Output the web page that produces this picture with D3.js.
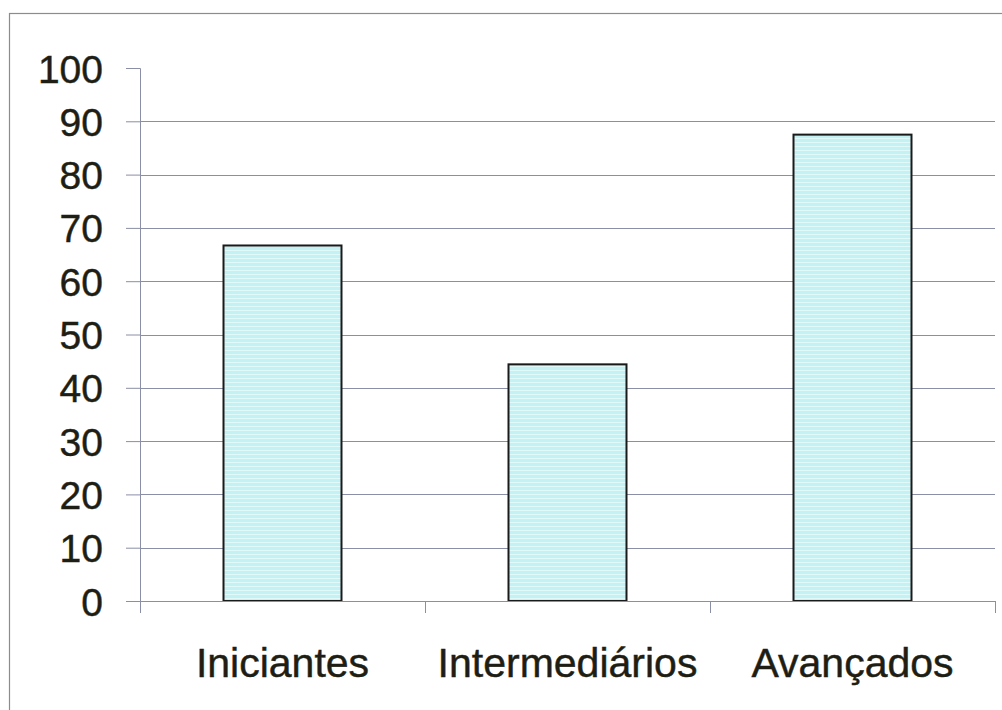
<!DOCTYPE html>
<html>
<head>
<meta charset="utf-8">
<script src="https://cdn.jsdelivr.net/npm/d3@7"></script>
<style>
  body { margin: 0; background: #fff; }
  text { font-family: "Liberation Sans", Arial, sans-serif; fill: #1e1e14; stroke: #1e1e14; stroke-width: 0.45px; }
</style>
</head>
<body>
<div id="graph"></div>
<script>
"use strict";

const width = 1002,
      height = 710;

// chart data
const categories = ["Iniciantes", "Intermediários", "Avançados"];
const values = [66.7, 44.4, 87.5];
const yTicks = [0, 10, 20, 30, 40, 50, 60, 70, 80, 90, 100];

const plot = { left: 140, right: 995, top: 68, bottom: 601 };

const svg = d3.select("#graph")
    .append("svg")
    .attr("width", width)
    .attr("height", height);

// scanned-look fill with faint horizontal lines
const defs = svg.append("defs");
const pat = defs.append("pattern")
    .attr("id", "scan")
    .attr("patternUnits", "userSpaceOnUse")
    .attr("width", 8)
    .attr("height", 4);
pat.append("rect").attr("width", 8).attr("height", 4).attr("fill", "#c4f1f4");
pat.append("rect").attr("y", 2).attr("width", 8).attr("height", 1).attr("fill", "#e2f9fa");

// outer frame
svg.append("rect")
    .attr("x", 9.5)
    .attr("y", 13.5)
    .attr("width", 1010)
    .attr("height", 720)
    .attr("fill", "#fff")
    .attr("stroke", "#8c8c8c")
    .attr("stroke-width", 1.2);

const x = d3.scaleBand()
    .domain(categories)
    .range([plot.left, plot.right])
    .padding(0);

const y = d3.scaleLinear()
    .domain([0, 100])
    .range([plot.bottom, plot.top]);

// gridlines (none at 0 and 100)
svg.append("g")
    .selectAll("line")
    .data(yTicks.filter(d => d > 0 && d < 100))
    .enter()
    .append("line")
    .attr("x1", plot.left)
    .attr("x2", plot.right)
    .attr("y1", d => Math.round(y(d)) + 0.5)
    .attr("y2", d => Math.round(y(d)) + 0.5)
    .attr("stroke", "#8a8ea6")
    .attr("stroke-width", 1);

// y axis
const yAxis = svg.append("g")
    .attr("transform", "translate(" + plot.left + ",0)")
    .call(d3.axisLeft(y).tickValues(yTicks).tickSize(14).tickPadding(23).tickFormat(d3.format("d")));
yAxis.select(".domain").attr("stroke", "#8a8ea6");
yAxis.selectAll(".tick line").attr("stroke", "#8a8ea6");
yAxis.selectAll("text")
    .style("font-size", "39px")
    .style("font-family", "'Liberation Sans', Arial, sans-serif")
    .attr("fill", "#1e1e14")
    .attr("dy", "0.36em");

// bars
const barW = x.bandwidth() * 0.414;
svg.append("g")
    .selectAll("rect")
    .data(values)
    .enter()
    .append("rect")
    .attr("x", (d, i) => x(categories[i]) + (x.bandwidth() - barW) / 2)
    .attr("y", d => y(d))
    .attr("width", barW)
    .attr("height", d => y(0) - y(d))
    .attr("fill", "url(#scan)")
    .attr("stroke", "#1a1a1a")
    .attr("stroke-width", 2);

// x axis: line at 0 and ticks at category boundaries
svg.append("line")
    .attr("x1", plot.left - 14)
    .attr("x2", plot.right)
    .attr("y1", y(0) + 0.5)
    .attr("y2", y(0) + 0.5)
    .attr("stroke", "#8a8ea6");

const bounds = categories.map(c => x(c)).concat([plot.right]);
svg.append("g")
    .selectAll("line")
    .data(bounds)
    .enter()
    .append("line")
    .attr("x1", d => Math.round(d) + 0.5)
    .attr("x2", d => Math.round(d) + 0.5)
    .attr("y1", y(0))
    .attr("y2", y(0) + 12)
    .attr("stroke", "#8a8ea6");

svg.append("g")
    .selectAll("text")
    .data(categories)
    .enter()
    .append("text")
    .attr("x", d => x(d) + x.bandwidth() / 2)
    .attr("y", 677)
    .attr("text-anchor", "middle")
    .style("font-size", "41px")
    .text(d => d);
</script>
</body>
</html>
